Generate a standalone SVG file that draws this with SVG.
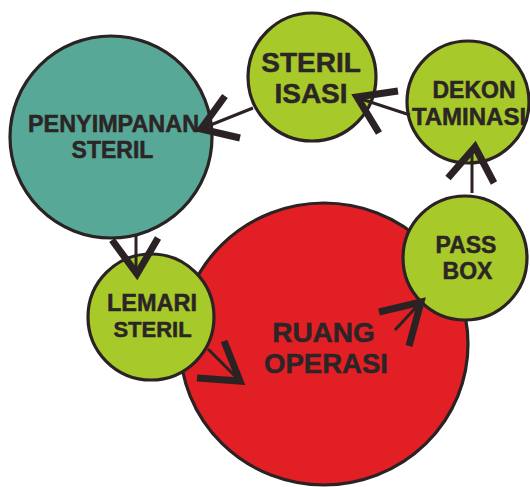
<svg xmlns="http://www.w3.org/2000/svg" width="530" height="487" viewBox="0 0 530 487">
<style>
.node{stroke:#2a2223;stroke-width:3.2}
.green{fill:#a8c92a}
.teal{fill:#58a898}
.red{fill:#e31f26}
.lbl{font-family:"Liberation Sans",Arial,sans-serif;font-weight:bold;fill:#2b2526;stroke:#2b2526;stroke-width:0.5;text-anchor:middle}
.shaft{stroke:#2a2223;stroke-width:3;fill:none}
.head{stroke:#2a2223;stroke-width:7;fill:none;stroke-linejoin:miter;stroke-miterlimit:10;stroke-linecap:butt}
</style>
<rect width="530" height="487" fill="#ffffff"/>
<g id="ruang-operasi">
<ellipse class="node red" cx="324" cy="344" rx="144" ry="141"/>
<text class="lbl" x="323.5" y="342" font-size="28">RUANG</text>
<text class="lbl" x="326" y="373" font-size="27.5">OPERASI</text>
</g>
<g id="penyimpanan-steril">
<circle class="node teal" cx="111" cy="137" r="101"/>
<text class="lbl" x="113.5" y="132" font-size="23.4">PENYIMPANAN</text>
<text class="lbl" x="112.5" y="158" font-size="23">STERIL</text>
</g>
<g id="sterilisasi">
<circle class="node green" cx="312" cy="77" r="64"/>
<text class="lbl" x="311" y="72" font-size="28">STERIL</text>
<text class="lbl" x="311" y="103" font-size="28">ISASI</text>
</g>
<g id="dekontaminasi">
<circle class="node green" cx="468" cy="102" r="61"/>
<text class="lbl" x="474" y="98" font-size="23">DEKON</text>
<text class="lbl" x="469" y="125" font-size="24">TAMINASI</text>
</g>
<g id="pass-box">
<circle class="node green" cx="465" cy="258" r="62"/>
<text class="lbl" x="466" y="253" font-size="23">PASS</text>
<text class="lbl" x="467.5" y="279" font-size="23">BOX</text>
</g>
<g id="lemari-steril">
<circle class="node green" cx="151" cy="317" r="63"/>
<text class="lbl" x="152" y="311" font-size="23.5">LEMARI</text>
<text class="lbl" x="152.5" y="337" font-size="22">STERIL</text>
</g>
<g id="connectors">
<line class="shaft" x1="410" y1="115" x2="358" y2="98"/>
<polyline class="head" points="398,91 357,97 379,133"/>
<line class="shaft" x1="253" y1="108" x2="203" y2="128"/>
<polyline class="head" points="225,96 201,129 240,138"/>
<line class="shaft" x1="136" y1="234" x2="136" y2="272"/>
<polyline class="head" points="112,240 137,274 158,238"/>
<line class="shaft" x1="208" y1="349" x2="238" y2="379"/>
<polyline class="head" points="197,378 240,381 224,341"/>
<line class="shaft" x1="395" y1="330" x2="420" y2="303"/>
<polyline class="head" points="379,312 421,302 409,346"/>
<line class="shaft" x1="472" y1="193" x2="472" y2="150"/>
<polyline class="head" points="448,178 475,147 494,183"/>
</g>
</svg>
